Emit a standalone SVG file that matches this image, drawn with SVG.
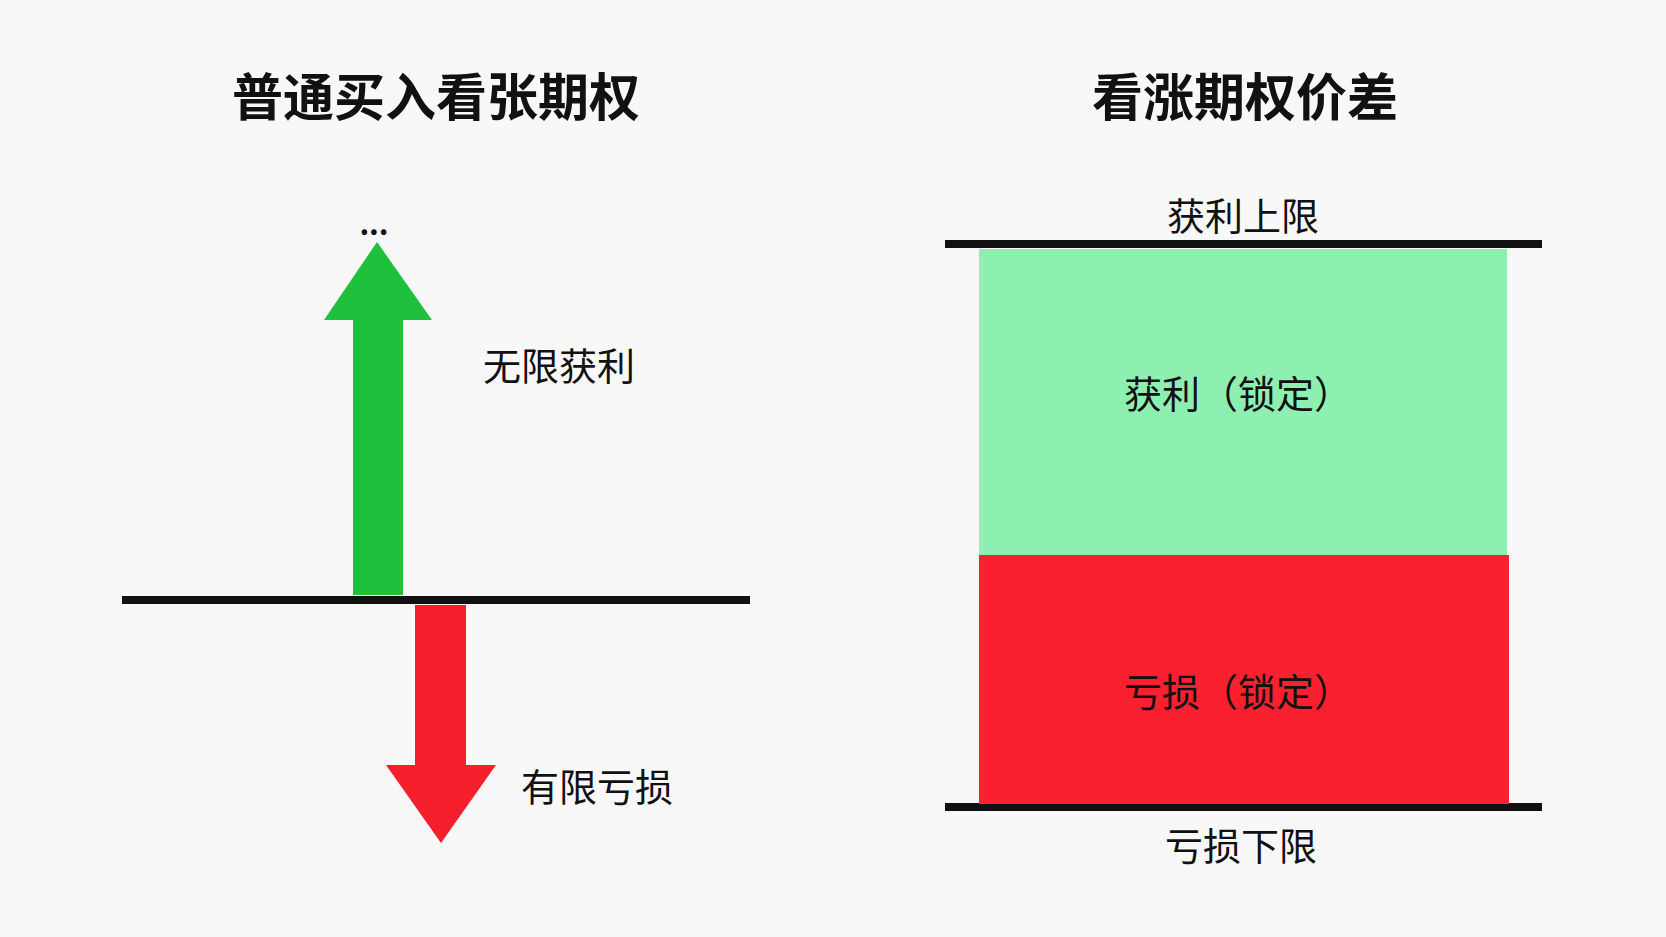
<svg xmlns="http://www.w3.org/2000/svg" width="1666" height="937" viewBox="0 0 1666 937">
<style>
text{font-family:"Noto Sans CJK SC","Noto Sans",sans-serif;fill:#111;text-anchor:middle;dominant-baseline:central}
.t{font-size:51px;font-weight:bold}
.l{font-size:38px}
</style>
<rect width="1666" height="937" fill="#f8f8f8"/>
<text class="t" x="436" y="94">普通买入看张期权</text>
<text class="t" x="1245" y="94">看涨期权价差</text>
<g id="connectors">
<line x1="122" y1="600" x2="750" y2="600" stroke="#111" stroke-width="8"/>
<line x1="945" y1="244" x2="1542" y2="244" stroke="#111" stroke-width="8"/>
<line x1="945" y1="807" x2="1542" y2="807" stroke="#111" stroke-width="8"/>
</g>
<g id="up-arrow">
<polygon points="377,242 432,320 403,320 403,595 353,595 353,320 324,320" fill="#1ec03c"/>
<text x="374" y="222" style="font-size:30px;font-weight:bold">...</text>
<text class="l" x="559" y="363">无限获利</text>
</g>
<g id="down-arrow">
<polygon points="415,605 466,605 466,765 496,765 441,843 386,765 415,765" fill="#f5202c"/>
<text class="l" x="597" y="784">有限亏损</text>
</g>
<g id="profit">
<rect x="979" y="249" width="528" height="306" fill="#8df0b0"/>
<text class="l" x="1238" y="391">获利（锁定）</text>
</g>
<g id="loss">
<rect x="979" y="555" width="530" height="249" fill="#fa2030"/>
<text class="l" x="1238" y="689">亏损（锁定）</text>
</g>
<text class="l" x="1243" y="213">获利上限</text>
<text class="l" x="1241" y="843">亏损下限</text>
</svg>
